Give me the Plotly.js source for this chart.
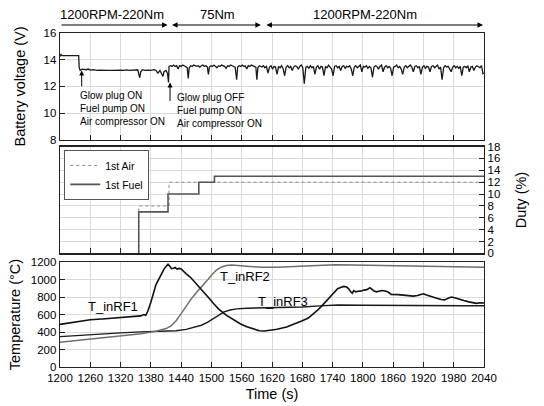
<!DOCTYPE html>
<html>
<head>
<meta charset="utf-8">
<script src="https://cdn.plot.ly/plotly-3.0.1.min.js"></script>
<style>html,body{margin:0;padding:0;background:#fff;}#chart{width:544px;height:406px;}</style>
</head>
<body>
<div id="chart"></div>
<script>
// ---- Battery voltage (V) ----
const voltTime = [1200,1202,1204,1210,1220,1230,1237,1238,1240,1244,1248,1252,1256,1260,1266,1272,1278,1284,1290,1296,1302,1308,1314,1320,1326,1332,1338,1344,1350,1354,1358,1360,1363,1368,1374,1380,1386,1390,1394,1398,1402,1404,1406,1410,1413,1415,
1416,1419,1422,1425,1428,1431,1434,1437,1440,1443,1446,1449,1452,1454,1456,1459,1462,1465,1468,1471,1474,1477,1480,1483,1486,1489,1492,1494,1496,1499,1502,1505,1508,1511,1514,1517,1520,1523,1526,1529,1532,1535,1538,1541,1544,1547,1550,1552,1555,1558,1561,1564,1567,1570,1573,1576,1579,1582,1585,1588,1590,1592,1595,1598,
1600,1603,1606,1609,1612,1615,1618,1621,1624,1627,1630,1633,1636,1639,1642,1645,1648,1651,1654,1657,1660,1663,1666,1669,1672,1675,1678,1681,1684,1687,1690,1693,1696,1699,1702,1705,1708,1711,1714,1717,1720,1723,1726,1729,1732,1735,1738,1741,1744,1747,1750,1753,1756,1759,1762,1765,1768,1771,1774,1777,1780,1783,1786,1789,1792,1795,1798,1801,1804,1807,1810,1813,1816,1819,1822,1825,1828,1831,1834,1837,1840,1843,1846,1849,1852,1855,1858,1861,1864,1867,1870,1873,1876,1879,1882,1885,1888,1891,1894,1897,1900,1903,1906,1909,1912,1915,1918,1921,1924,1927,1930,1933,1936,1939,1942,1945,1948,1951,1954,1957,1960,1963,1966,1969,1972,1975,1978,1981,1984,1987,1990,1993,1996,1999,2002,2005,2008,2011,2014,2017,2020,2023,2026,2029,2032,2035,2038,2040];
const voltage = [14.25,14.4,14.3,14.3,14.3,14.3,14.3,13.4,13.2,13.3,13.28,13.25,13.3,13.22,13.25,13.2,13.22,13.2,13.22,13.2,13.2,13.22,13.2,13.22,13.2,13.24,13.2,13.22,13.2,13.25,12.65,13.1,13.25,13.2,13.22,13.2,13.25,13.2,13.0,13.2,12.9,12.75,13.1,13.2,13.0,12.3,
13.5,13.55,13.5,13.6,13.5,13.55,13.3,13.55,13.5,13.6,13.55,13.5,13.4,12.6,13.4,13.55,13.5,13.6,13.55,13.5,13.55,13.45,13.55,13.6,13.5,13.55,13.45,12.9,13.45,13.55,13.5,13.6,13.5,13.4,13.55,13.5,13.6,13.55,13.5,13.35,13.55,13.5,13.6,13.55,13.5,13.45,12.5,13.45,13.55,13.5,13.6,13.5,13.55,13.3,13.55,13.5,13.6,13.55,13.5,13.45,12.5,13.4,13.55,13.5,
13.45,13.55,13.4,13.5,13.0,13.45,13.55,13.3,13.5,13.45,12.9,13.5,13.4,13.55,13.35,12.8,13.45,13.55,13.4,13.5,13.2,13.45,13.55,13.5,13.3,13.5,13.6,13.4,12.2,13.45,13.5,13.35,13.55,13.4,13.5,12.9,13.45,13.55,13.3,13.5,13.45,12.8,13.5,13.4,13.6,13.45,13.3,12.8,13.5,13.55,13.4,13.5,13.2,13.5,13.55,13.35,13.5,13.45,13.55,13.3,12.8,13.45,13.55,13.4,13.5,13.6,13.1,13.5,13.45,13.55,13.35,13.5,13.4,12.7,13.45,13.55,13.5,13.3,13.5,13.6,13.1,13.45,13.55,13.4,13.5,13.35,12.8,13.45,13.5,13.6,13.4,13.5,13.3,12.9,13.45,13.55,13.4,13.5,13.6,13.45,13.1,13.5,13.55,13.4,13.5,12.9,13.45,13.55,13.35,13.5,13.45,13.1,13.5,13.55,13.4,13.5,13.6,13.3,13.45,12.5,13.4,13.55,13.45,13.5,13.3,13.1,13.45,13.55,13.4,13.5,13.35,13.5,12.8,13.45,13.5,13.4,13.55,13.1,13.45,13.5,13.2,13.45,13.55,13.5,13.4,13.55,12.95,13.0];

// ---- Duty (%) ----
const airTime  = [1356,1356,1416,2040];
const airDuty  = [0,8,12,12];
const fuelTime = [1356,1356,1414,1475,1506,2040];
const fuelDuty = [0,7,10,12,13,13];

// ---- Temperature (°C) ----
const rf1Time = [1200,1230,1260,1290,1320,1345,1360,1366,1370,1374,1380,1390,1400,1406,1410,1414,1418,1421,1425,1428,1432,1436,1440,1444,1450,1458,1468,1477,1486,1495,1505,1515,1530,1545,1557,1570,1583,1595,1605,1615,1630,1649,1665,1680,1692,1703,1712,1722,1730,1738,1745,1750,1756,1762,1768,1772,1776,1779,1782,1786,1790,1796,1802,1808,1814,1818,1822,1827,1832,1838,1844,1850,1856,1862,1870,1880,1890,1900,1908,1914,1920,1926,1932,1940,1948,1955,1962,1968,1975,1982,1990,2000,2010,2018,2025,2032,2040];
const rf1Temp = [488,515,541,552,565,575,585,600,592,640,740,940,1060,1120,1150,1175,1150,1125,1130,1138,1120,1128,1122,1097,1065,1029,965,914,850,790,720,660,590,535,495,460,432,415,412,420,432,457,490,530,560,610,660,720,770,810,860,895,910,922,915,895,860,845,875,860,866,868,880,885,907,885,870,860,865,875,870,858,830,832,828,822,815,811,818,832,838,825,812,800,785,772,768,785,800,792,775,760,745,732,728,735,733];
const rf2Time = [1200,1260,1320,1360,1390,1410,1420,1430,1440,1450,1460,1470,1480,1490,1500,1510,1520,1530,1540,1555,1575,1600,1630,1660,1690,1720,1745,1780,1840,1900,1960,2000,2040];
const rf2Temp = [283,322,360,380,410,440,470,530,610,700,780,850,910,980,1050,1110,1145,1162,1168,1162,1150,1140,1142,1150,1160,1168,1170,1166,1160,1156,1150,1145,1140];
const rf3Time = [1200,1260,1320,1360,1400,1430,1450,1465,1480,1492,1504,1515,1525,1537,1550,1570,1600,1640,1680,1715,1750,1800,1870,1940,2000,2040];
const rf3Temp = [348,372,390,402,407,415,430,450,478,510,552,600,630,652,665,673,677,680,686,700,710,706,701,697,700,700];

const FONT = 'Liberation Sans, Arial, sans-serif';
const LINE = '#222';
const GRID = '#dadada';

const traces = [
  {x: voltTime, y: voltage, xaxis: 'x3', yaxis: 'y3', mode: 'lines', line: {color: '#1a1a1a', width: 1.3}, showlegend: false, name: 'Battery voltage'},
  {x: airTime, y: airDuty, xaxis: 'x2', yaxis: 'y2', mode: 'lines', line: {color: '#8a8a8a', width: 1, dash: 'dot', shape: 'hv'}, name: '1st Air'},
  {x: fuelTime, y: fuelDuty, xaxis: 'x2', yaxis: 'y2', mode: 'lines', line: {color: '#555', width: 1.6, shape: 'hv'}, name: '1st Fuel'},
  {x: rf3Time, y: rf3Temp, xaxis: 'x', yaxis: 'y', mode: 'lines', line: {color: '#1a1a1a', width: 1.4}, showlegend: false, name: 'T_inRF3'},
  {x: rf2Time, y: rf2Temp, xaxis: 'x', yaxis: 'y', mode: 'lines', line: {color: '#6e6e6e', width: 1.5}, showlegend: false, name: 'T_inRF2'},
  {x: rf1Time, y: rf1Temp, xaxis: 'x', yaxis: 'y', mode: 'lines', line: {color: '#111', width: 1.6}, showlegend: false, name: 'T_inRF1'}
];

const xCommon = {range: [1200, 2040], tick0: 1200, dtick: 60, ticks: 'inside', ticklen: 5, tickcolor: LINE,
  showline: true, linecolor: LINE, linewidth: 1.3, mirror: true, showgrid: true, gridcolor: GRID, zeroline: false,
  tickfont: {family: FONT, size: 11.5, color: '#000'}};

const layout = {
  width: 544, height: 406,
  margin: {l: 60, r: 60, t: 33, b: 39},
  paper_bgcolor: '#fff', plot_bgcolor: '#fff',
  font: {family: FONT, color: '#000'},
  xaxis: Object.assign({}, xCommon, {anchor: 'y', title: {text: 'Time (s)', font: {family: FONT, size: 14.5}, standoff: 5}}),
  xaxis2: Object.assign({}, xCommon, {anchor: 'y2', matches: 'x', showticklabels: false}),
  xaxis3: Object.assign({}, xCommon, {anchor: 'y3', matches: 'x', showticklabels: false}),
  yaxis: {domain: [0, 0.314], range: [0, 1200], dtick: 200, ticks: 'inside', ticklen: 5, tickcolor: LINE,
    showline: true, linecolor: LINE, linewidth: 1.3, mirror: true, showgrid: true, gridcolor: GRID, zeroline: false,
    tickfont: {family: FONT, size: 11.5}, title: {text: 'Temperature (°C)', font: {family: FONT, size: 14.5}, standoff: 6}},
  yaxis2: {domain: [0.34, 0.66], range: [0, 18], dtick: 2, side: 'right', ticks: 'inside', ticklen: 5, tickcolor: LINE,
    showline: true, linecolor: LINE, linewidth: 1.3, mirror: true, showgrid: true, gridcolor: GRID, zeroline: false,
    tickfont: {family: FONT, size: 11.5}, title: {text: 'Duty (%)', font: {family: FONT, size: 14.5}, standoff: 16}},
  yaxis3: {domain: [0.68, 1], range: [8, 16], dtick: 2, ticks: 'inside', ticklen: 5, tickcolor: LINE,
    showline: true, linecolor: LINE, linewidth: 1.3, mirror: true, showgrid: true, gridcolor: GRID, zeroline: false,
    tickfont: {family: FONT, size: 11.5}, title: {text: 'Battery voltage (V)', font: {family: FONT, size: 14.5}, standoff: 14}},
  legend: {x: 0.01, y: 0.65, xanchor: 'left', yanchor: 'top', bgcolor: '#fff', bordercolor: '#555', borderwidth: 1,
    font: {family: FONT, size: 10.5}, tracegroupgap: 0, itemwidth: 30},
  annotations: [
    // operating-period arrows
    {xref: 'x', yref: 'paper', x: 1413, y: 1.024, ax: 1200, ay: 1.024, axref: 'x', ayref: 'paper', text: '', showarrow: true, arrowhead: 2, arrowsize: 1, arrowwidth: 1.1, arrowcolor: '#000', arrowside: 'end'},
    {xref: 'x', yref: 'paper', x: 1598, y: 1.024, ax: 1419, ay: 1.024, axref: 'x', ayref: 'paper', text: '', showarrow: true, arrowhead: 2, arrowsize: 1, arrowwidth: 1.1, arrowcolor: '#000', arrowside: 'end+start'},
    {xref: 'x', yref: 'paper', x: 2038, y: 1.024, ax: 1606, ay: 1.024, axref: 'x', ayref: 'paper', text: '', showarrow: true, arrowhead: 2, arrowsize: 1, arrowwidth: 1.1, arrowcolor: '#000', arrowside: 'end+start'},
    {xref: 'x', yref: 'paper', x: 1303, y: 1.054, yanchor: 'middle', xanchor: 'center', text: '1200RPM-220Nm', showarrow: false, font: {family: FONT, size: 13}},
    {xref: 'x', yref: 'paper', x: 1513, y: 1.054, yanchor: 'middle', xanchor: 'center', text: '75Nm', showarrow: false, font: {family: FONT, size: 13}},
    {xref: 'x', yref: 'paper', x: 1804, y: 1.054, yanchor: 'middle', xanchor: 'center', text: '1200RPM-220Nm', showarrow: false, font: {family: FONT, size: 13}},
    // event arrows + text
    {xref: 'x3', yref: 'y3', x: 1243, y: 13.2, ax: 1243, ay: 11.9, axref: 'x3', ayref: 'y3', text: '', showarrow: true, arrowhead: 2, arrowsize: 1, arrowwidth: 1, arrowcolor: '#000'},
    {xref: 'x3', yref: 'y3', x: 1418, y: 12.3, ax: 1418, ay: 10.8, axref: 'x3', ayref: 'y3', text: '', showarrow: true, arrowhead: 2, arrowsize: 1, arrowwidth: 1, arrowcolor: '#000'},
    {xref: 'x3', yref: 'y3', x: 1236, y: 11.85, xanchor: 'left', yanchor: 'top', align: 'left', showarrow: false,
      text: 'Glow plug ON<br>Fuel pump ON<br>Air compressor ON', font: {family: FONT, size: 10}},
    {xref: 'x3', yref: 'y3', x: 1428, y: 11.7, xanchor: 'left', yanchor: 'top', align: 'left', showarrow: false,
      text: 'Glow plug OFF<br>Fuel pump ON<br>Air compressor ON', font: {family: FONT, size: 10}},
    // temperature labels
    {xref: 'x', yref: 'y', x: 1305, y: 690, text: 'T_inRF1', showarrow: false, font: {family: FONT, size: 13}},
    {xref: 'x', yref: 'y', x: 1567, y: 1030, text: 'T_inRF2', showarrow: false, font: {family: FONT, size: 13}},
    {xref: 'x', yref: 'y', x: 1642, y: 755, text: 'T_inRF3', showarrow: false, font: {family: FONT, size: 13}}
  ]
};

Plotly.newPlot('chart', traces, layout, {staticPlot: true, displayModeBar: false});
</script>
</body>
</html>
